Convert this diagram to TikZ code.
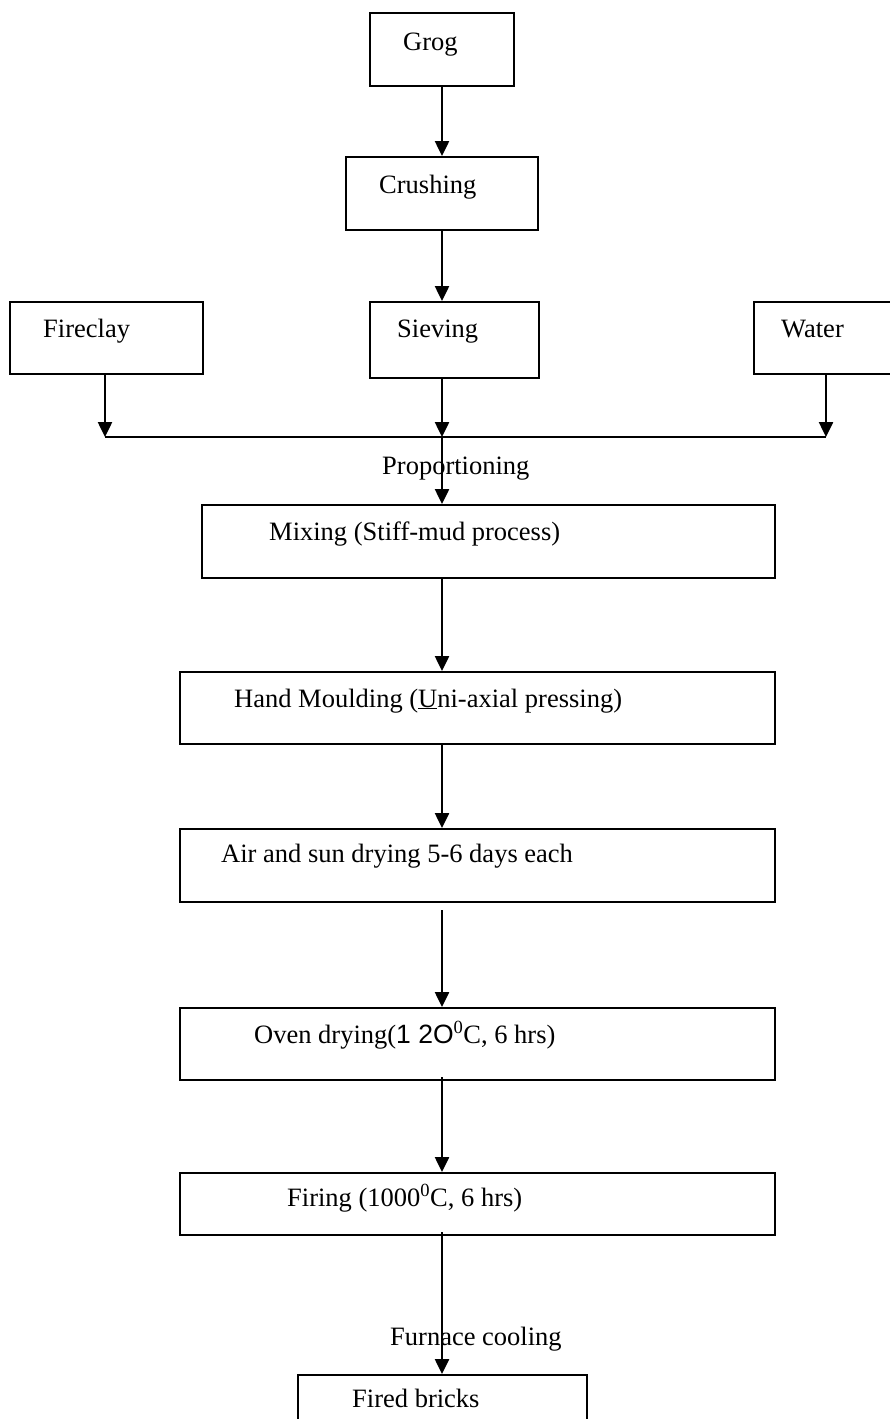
\documentclass[tikz,border=0pt]{standalone}
\usepackage{fontspec}
\setmainfont{Liberation Serif}
\newfontfamily\sansnum{Liberation Sans}
\usetikzlibrary{arrows.meta}
\newcommand\bigfs{\fontsize{26.5}{30}\selectfont}
\begin{document}
\begin{tikzpicture}[x=1pt,y=-1pt,
  box/.style={draw,line width=2pt,rectangle,inner sep=0pt,anchor=north west},
  lbl/.style={anchor=base west,inner sep=0pt,font=\bigfs},
  arr/.style={line width=2.5pt,-{Triangle[width=14pt,length=15pt]}},
  plain/.style={line width=2.5pt}]
\useasboundingbox (0,0) rectangle (890,1419);
\fill[white] (0,0) rectangle (890,1419);
% boxes
\node[box,minimum width=144pt,minimum height=73pt] (grog) at (369,12) {};
\node[box,minimum width=192pt,minimum height=73pt] (crush) at (345,156) {};
\node[box,minimum width=193pt,minimum height=72pt] (fire) at (9,301) {};
\node[box,minimum width=169pt,minimum height=76pt] (sieve) at (369,301) {};
\node[box,minimum width=145pt,minimum height=72pt] (water) at (753,301) {};
\node[box,minimum width=573pt,minimum height=73pt] (mix) at (201,504) {};
\node[box,minimum width=595pt,minimum height=72pt] (hand) at (179,671) {};
\node[box,minimum width=595pt,minimum height=73pt] (air) at (179,828) {};
\node[box,minimum width=595pt,minimum height=72pt] (oven) at (179,1007) {};
\node[box,minimum width=595pt,minimum height=62pt] (firing) at (179,1172) {};
\node[box,minimum width=289pt,minimum height=60pt] (fired) at (297,1374) {};
% texts
\node[lbl] (tgrog) at (403,50) {Grog};
\node[lbl] (tcrush) at (379,193) {Crushing};
\node[lbl] (tfire) at (43,337) {Fireclay};
\node[lbl] (tsieve) at (397,337) {Sieving};
\node[lbl] (twater) at (781,337) {Water};
\node[lbl] (tprop) at (382,474) {Proportioning};
\node[lbl] (tmix) at (269,540) {Mixing (Stiff-mud process)};
\node[lbl] (thand) at (234,707) {Hand Moulding (\underline{U}ni-axial pressing)};
\node[lbl] (tair) at (221,862) {Air and sun drying 5-6 days each};
\node[lbl] (toven) at (254,1043) {Oven drying({\sansnum 1 2O}\textsuperscript{0}C, 6 hrs)};
\node[lbl] (tfiring) at (287,1206) {Firing (1000\textsuperscript{0}C, 6 hrs)};
\node[lbl] (tfurn) at (390,1345) {Furnace cooling};
\node[lbl] (tfired) at (352,1407) {Fired bricks};
% connector coordinates
\coordinate (cx) at (442,0);
\coordinate (jl) at (105,437);
\coordinate (jr) at (826,437);
\coordinate (jc) at (442,437);
% connectors
\draw[arr] (grog.south -| cx) -- (crush.north -| cx);
\draw[arr] (crush.south -| cx) -- (sieve.north -| cx);
\draw[plain] (jl) -- (jr);
\draw[arr] (fire.south -| jl) -- (jl);
\draw[arr] (water.south -| jr) -- (jr);
\draw[arr] (sieve.south -| cx) -- (jc);
\draw[arr] (jc) -- (mix.north -| cx);
\draw[arr] (mix.south -| cx) -- (hand.north -| cx);
\draw[arr] (hand.south -| cx) -- (air.north -| cx);
\draw[arr] ([yshift=-7pt]air.south -| cx) -- (oven.north -| cx);
\draw[arr] ([yshift=4pt]oven.south -| cx) -- (firing.north -| cx);
\draw[arr] ([yshift=4pt]firing.south -| cx) -- (fired.north -| cx);
\end{tikzpicture}
\end{document}
